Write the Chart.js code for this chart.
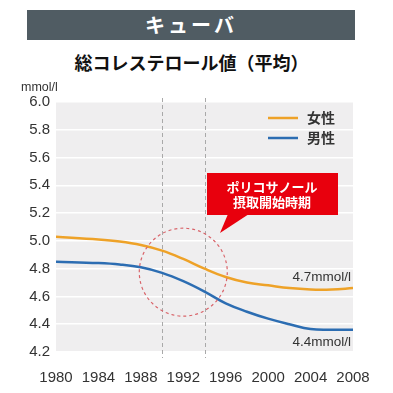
<!DOCTYPE html>
<html>
<head>
<meta charset="utf-8">
<script src="https://cdn.jsdelivr.net/npm/chart.js@4"></script>
<style>
  body { margin: 0; background: #fff; }
  #wrap { position: relative; width: 393px; height: 393px; overflow: hidden; }
  #bar {
    position: absolute; left: 27px; top: 10px; width: 328px; height: 30px;
    background: #505c63; color: #fff; text-align: center;
    font: bold 20px "Noto Sans CJK JP", sans-serif; line-height: 30px; letter-spacing: 3px;
  }
  #sub {
    position: absolute; left: 0; top: 49px; width: 383px; text-align: center;
    font: bold 18px "Noto Sans CJK JP", sans-serif; color: #111; line-height: 26px;
  }
  canvas { position: absolute; left: 0; top: 0; }
</style>
</head>
<body>
<div id="wrap">
  <div id="bar">キューバ</div>
  <div id="sub">総コレステロール値（平均）</div>
  <canvas id="chart" width="393" height="393"></canvas>
</div>
<script>
// values
const years  = [1980, 1984, 1986, 1988, 1990, 1992, 1994, 1996, 1998, 2000, 2002, 2004, 2006, 2008];
const female = [5.03, 5.01, 4.995, 4.97, 4.93, 4.87, 4.80, 4.74, 4.70, 4.68, 4.66, 4.65, 4.65, 4.66];
const male   = [4.85, 4.84, 4.83, 4.81, 4.77, 4.71, 4.635, 4.55, 4.49, 4.44, 4.40, 4.365, 4.36, 4.36];
const seriesNames = ['女性', '男性'];
const endLabels = ['4.7mmol/l', '4.4mmol/l'];
const markYears = [1990, 1994];
const circleAt = { x: 1992, y: 4.775 };
const calloutText = ['ポリコサノール', '摂取開始時期'];

const ORANGE = '#eea228';
const BLUE = '#2c6db2';

function pts(vals) {
  return years.map((y, i) => ({ x: y, y: vals[i] }));
}

const deco = {
  id: 'deco',
  beforeDraw(chart) {
    const { ctx, chartArea: a } = chart;
    ctx.save();
    ctx.fillStyle = '#efeeef';
    ctx.fillRect(a.left, a.top, a.right - a.left, a.bottom - a.top);
    ctx.restore();
  },
  beforeDatasetsDraw(chart) {
    const { ctx, chartArea: a, scales } = chart;
    ctx.save();
    ctx.strokeStyle = '#a9a9a9';
    ctx.lineWidth = 1;
    ctx.setLineDash([4, 3]);
    markYears.forEach(yr => {
      const x = Math.round(scales.x.getPixelForValue(yr)) + 0.5;
      ctx.beginPath();
      ctx.moveTo(x, a.top - 4);
      ctx.lineTo(x, a.bottom + 6);
      ctx.stroke();
    });
    ctx.restore();
  },
  afterDatasetsDraw(chart) {
    const { ctx, scales } = chart;
    ctx.save();

    // dashed circle
    ctx.strokeStyle = '#d9646a';
    ctx.lineWidth = 1.2;
    ctx.setLineDash([3, 3]);
    ctx.beginPath();
    ctx.arc(scales.x.getPixelForValue(circleAt.x), scales.y.getPixelForValue(circleAt.y), 44, 0, Math.PI * 2);
    ctx.stroke();
    ctx.setLineDash([]);

    // callout
    ctx.fillStyle = '#e8000d';
    ctx.fillRect(207, 173, 131, 42);
    ctx.beginPath();
    ctx.moveTo(228, 214);
    ctx.lineTo(249, 214);
    ctx.lineTo(220, 233);
    ctx.closePath();
    ctx.fill();
    ctx.fillStyle = '#fff';
    ctx.font = 'bold 13px "Noto Sans CJK JP"';
    ctx.textAlign = 'center';
    ctx.textBaseline = 'middle';
    ctx.fillText(calloutText[0], 272, 187);
    ctx.fillText(calloutText[1], 272, 202);

    // legend
    const cols = [ORANGE, BLUE];
    ctx.lineWidth = 2.5;
    ctx.textAlign = 'left';
    ctx.font = 'bold 14px "Noto Sans CJK JP"';
    seriesNames.forEach((n, i) => {
      const y = 118 + i * 20;
      ctx.strokeStyle = cols[i];
      ctx.beginPath();
      ctx.moveTo(268, y);
      ctx.lineTo(298, y);
      ctx.stroke();
      ctx.fillStyle = '#333';
      ctx.fillText(n, 307, y);
    });

    // end labels
    ctx.font = '13.5px "Liberation Sans"';
    ctx.fillStyle = '#333';
    ctx.textAlign = 'right';
    ctx.fillText(endLabels[0], 351, 277);
    ctx.fillText(endLabels[1], 351, 342);

    // unit
    ctx.textAlign = 'left';
    ctx.font = '12.5px "Liberation Sans"';
    ctx.fillText('mmol/l', 21, 88);
    ctx.restore();
  }
};

new Chart(document.getElementById('chart'), {
  type: 'line',
  data: {
    datasets: [
      { label: seriesNames[0], data: pts(female), borderColor: ORANGE, borderWidth: 2.5, pointRadius: 0, tension: 0.4 },
      { label: seriesNames[1], data: pts(male), borderColor: BLUE, borderWidth: 2.5, pointRadius: 0, tension: 0.4 }
    ]
  },
  options: {
    responsive: false,
    animation: false,
    layout: { padding: { top: 102, right: 40, left: 0, bottom: 0 } },
    plugins: { legend: { display: false }, tooltip: { enabled: false } },
    scales: {
      x: {
        type: 'linear', min: 1980, max: 2008,
        ticks: { stepSize: 4, color: '#333', font: { family: 'Liberation Sans', size: 15 }, padding: 9, callback: v => String(v) },
        grid: { display: false },
        border: { display: false },
        afterFit(s) { s.height = 41; }
      },
      y: {
        min: 4.2, max: 6.0,
        ticks: { stepSize: 0.2, color: '#333', font: { family: 'Liberation Sans', size: 15 }, padding: 6, callback: v => v.toFixed(1) },
        grid: { color: '#ffffff', lineWidth: 1.5, drawTicks: false },
        border: { display: false },
        afterFit(s) { s.width = 56; }
      }
    }
  },
  plugins: [deco]
});
</script>
</body>
</html>
